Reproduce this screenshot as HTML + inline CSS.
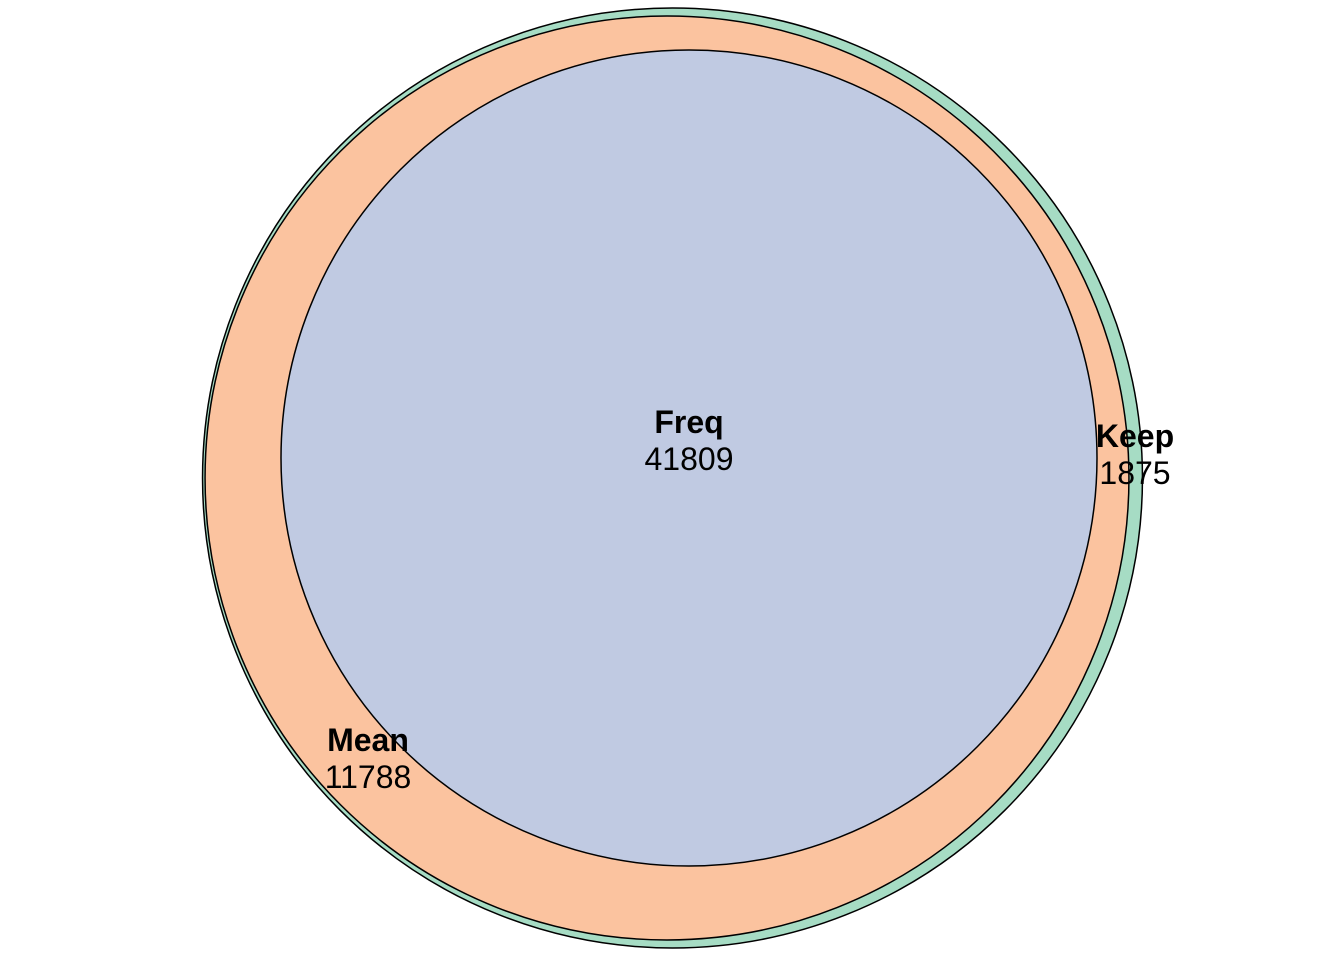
<!DOCTYPE html>
<html>
<head>
<meta charset="utf-8">
<style>
  html,body{margin:0;padding:0;background:#fff;}
  svg{display:block;}
  text{font-family:"Liberation Sans",Arial,sans-serif;font-size:32px;fill:#000;}
  .b{font-weight:bold;}
</style>
</head>
<body>
<svg id="chart" width="1344" height="960" viewBox="0 0 1344 960"></svg>
<script>
const setNames = ["Keep", "Mean", "Freq"];
const regionCounts = [1875, 11788, 41809];
const fills = ["#a6dcc4", "#fbc39f", "#c0cae2"];
const centersX = [672.5, 667, 689];
const centersY = [478, 478, 458];
const labelX = [1135, 368, 689];
const labelY = [436, 740, 422];

// cumulative nested set sizes: Freq ⊂ Mean ⊂ Keep
const totals = [
  regionCounts[0] + regionCounts[1] + regionCounts[2],
  regionCounts[1] + regionCounts[2],
  regionCounts[2]
];
const k = 408 / Math.sqrt(41809);
function radius(n){ return k * Math.sqrt(n); }

const svg = document.getElementById('chart');
const NS = "http://www.w3.org/2000/svg";
for (let i = 0; i < setNames.length; i++) {
  const c = document.createElementNS(NS, 'circle');
  
  
  c.setAttribute('cx', centersX[i]);
  c.setAttribute('cy', centersY[i]);
  c.setAttribute('r', radius(totals[i]));
  c.setAttribute('fill', fills[i]);
  c.setAttribute('stroke', '#000');
  c.setAttribute('stroke-width', '1.5');
  svg.appendChild(c);
}
for (let i = 0; i < setNames.length; i++) {
  const t = document.createElementNS(NS, 'text');
  
  
  t.setAttribute('x', labelX[i]);
  t.setAttribute('y', labelY[i] + 11);
  t.setAttribute('text-anchor', 'middle');
  t.setAttribute('class', 'b');
  t.textContent = setNames[i];
  svg.appendChild(t);
  const v = document.createElementNS(NS, 'text');
  
  
  v.setAttribute('x', labelX[i]);
  v.setAttribute('y', labelY[i] + 48);
  v.setAttribute('text-anchor', 'middle');
  v.textContent = regionCounts[i];
  svg.appendChild(v);
}
</script>
</body>
</html>
